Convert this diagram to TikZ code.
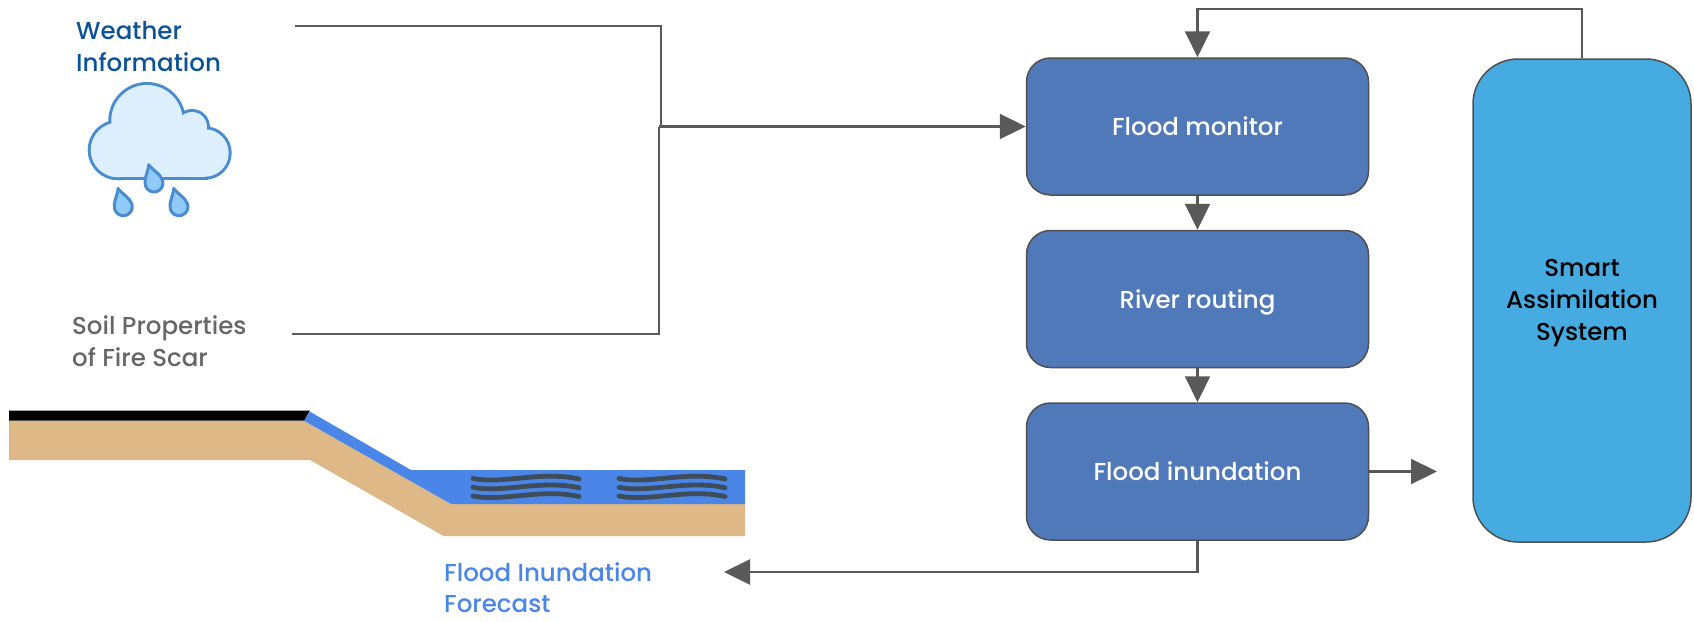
\documentclass[tikz,border=0pt]{standalone}
\usepackage{fontspec}
\setmainfont{Poppins}[UprightFont=* Medium]
\usetikzlibrary{arrows.meta}

\definecolor{linegray}{RGB}{89,89,89}
\definecolor{boxedge}{RGB}{80,80,80}
\definecolor{procblue}{RGB}{80,121,185}
\definecolor{smartblue}{RGB}{69,171,225}
\definecolor{titleblue}{RGB}{11,83,148}
\definecolor{soilgray}{RGB}{102,102,102}
\definecolor{fcblue}{RGB}{74,134,232}
\definecolor{water}{RGB}{74,134,232}
\definecolor{soil}{RGB}{222,184,135}
\definecolor{wave}{RGB}{62,76,89}
\definecolor{cloudline}{RGB}{74,140,208}
\definecolor{cloudfill}{RGB}{221,238,253}
\definecolor{dropfill}{RGB}{145,201,249}

\begin{document}
\begin{tikzpicture}[x=1pt,y=-1pt,
  conn/.style={draw=linegray, line width=2.2pt},
  arr/.style={conn, -{Triangle[length=26pt,width=25pt]}},
  proc/.style={rectangle, rounded corners=24pt, draw=boxedge, line width=1.5pt,
    fill=procblue, minimum width=342pt, minimum height=137pt, text=white,
    font=\fontsize{24.5}{31.5}\selectfont, text height=18pt, text depth=0pt},
  smartbox/.style={rectangle, rounded corners=45pt, draw=boxedge, line width=1.5pt,
    fill=smartblue, minimum width=218pt, minimum height=483pt},
  label/.style={anchor=west, inner sep=0pt, align=left,
    font=\fontsize{24.5}{31.5}\selectfont},
  waveline/.style={draw=wave, line width=4.8pt, line cap=round},
  drop/.style={draw=cloudline, fill=dropfill, line width=3pt, line join=round}]

\useasboundingbox (0,0) rectangle (1694,621);

% ---------- processing chain ----------
\node[proc] (mon) at (1197.5,126.5) {Flood monitor};
\node[proc] (riv) at (1197.5,299) {River routing};
\node[proc] (inu) at (1197.5,471.5) {Flood inundation};
\node[smartbox] (sas) at (1582,300.5) {};
\node[align=center, font=\fontsize{24.5}{32}\selectfont, inner sep=0pt]
  (sastext) at (1582,303.5) {Smart\\Assimilation\\System};

\draw[arr] (mon.south) -- (riv.north);
\draw[arr] (riv.south) -- (inu.north);
\draw[arr] (sas.north) -- ++(0,-49.5) -| (mon.north);
\coordinate (sasin) at (1437,471.5);
\draw[arr] (inu.east) -- (sasin);
\coordinate (fcend) at (724,572);
\draw[arr] (inu.south) |- (fcend);

% ---------- inputs ----------
\node[label, text=titleblue] (weather) at (76,46.5) {Weather\\Information};
\node[label, text=soilgray] (soilprop) at (72,341) {Soil Properties\\of Fire Scar};
\node[label, text=fcblue] (forecast) at (444,587.5) {Flood Inundation\\Forecast};

\coordinate (wstart) at (295,25.7);
\coordinate (sstart) at (291.6,334);
\coordinate (wjoin) at (661,126.5);
\coordinate (sjoin) at (659,126.5);
\draw[conn] (wstart) -| (wjoin);
\draw[conn] (sstart) -| (sjoin);
\draw[arr] (sjoin) -- (mon.west);

% ---------- rain cloud ----------
\begin{scope}
  \foreach \c/\r in {{(118,150)}/27.3, {(147,120.7)}/35.7, {(192,127)}/15, {(205,153)}/23.7}
    \draw[cloudline, line width=6pt] \c circle[radius=\r];
  \draw[cloudline, line width=6pt] (118,130) rectangle (205,176.7);
  \foreach \c/\r in {{(118,150)}/27.3, {(147,120.7)}/35.7, {(192,127)}/15, {(205,153)}/23.7}
    \fill[cloudfill] \c circle[radius=\r];
  \fill[cloudfill] (118,130) rectangle (205,176.7);
\end{scope}
\foreach \p in {(154,183), (123.3,206.7), (179,206.7)}
  \draw[drop, shift={\p}, yscale=-1, rotate=-16]
    (0,19) .. controls (-2,13) and (-9,6.5) .. (-9,0)
    arc[start angle=180, end angle=360, radius=9]
    .. controls (9,6.5) and (2,13) .. (0,19) -- cycle;

% ---------- terrain cross-section ----------
\fill[soil] (9,420.7) -- (304,420.7) -- (451,504) -- (745,504) -- (745,536)
  -- (443.5,536) -- (310,460) -- (9,460) -- cycle;
\fill[water] (310,411.7) -- (411,470) -- (745,470) -- (745,504) -- (451,504)
  -- (304,420.7) -- cycle;
\fill[black] (9,410.5) -- (310,410.5) -- (304,420.7) -- (9,420.7) -- cycle;
\foreach \x in {473,619}
  \foreach \y in {478.5,487.3,496}
    \draw[waveline] (\x,\y) .. controls (\x+30,\y+6) and (\x+68,\y-8) .. (\x+106,\y+0.5);

\end{tikzpicture}
\end{document}
